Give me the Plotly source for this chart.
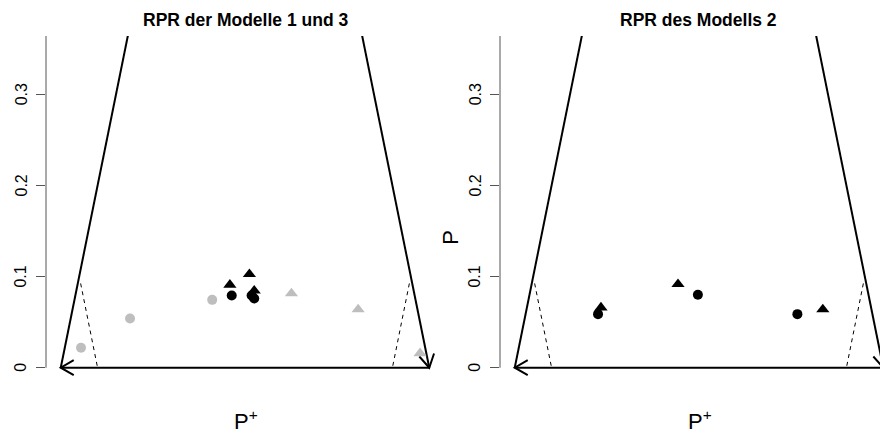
import numpy as np
import plotly.graph_objects as go

W, H = 880, 435
FONT = "Liberation Sans, Arial, Helvetica, sans-serif"
GREY = "#bebebe"

titles = ["RPR der Modelle 1 und 3", "RPR des Modells 2"]
x_label = "P<sup>+</sup>"
y_label = "P"

# Panel 1: Modelle 1 und 3
p1_grey_circle_x = [0.055, 0.188, 0.411]
p1_grey_circle_y = [0.022, 0.054, 0.0745]
p1_black_circle_x = [0.464, 0.518, 0.525]
p1_black_circle_y = [0.0793, 0.0793, 0.0760]
p1_black_tri_x = [0.459, 0.512, 0.525]
p1_black_tri_y = [0.0910, 0.1026, 0.0846]
p1_grey_tri_x = [0.626, 0.807, 0.975]
p1_grey_tri_y = [0.0815, 0.0640, 0.0158]

# Panel 2: Modell 2
p2_circle_x = [0.226, 0.497, 0.767]
p2_circle_y = [0.0588, 0.0800, 0.0588]
p2_tri_x = [0.234, 0.443, 0.836]
p2_tri_y = [0.0660, 0.0917, 0.0640]

# Region boundaries (P+ on x, P on y)
left_edge_x, left_edge_y = [0.0, 0.2], [0.0, 0.4]
right_edge_x, right_edge_y = [0.8, 1.0], [0.4, 0.0]
base_x, base_y = [1.0, 0.0], [0.0, 0.0]
left_dash_x, left_dash_y = [0.054, 0.100], [0.0925, 0.0]
right_dash_x, right_dash_y = [0.946, 0.900], [0.0925, 0.0]

y_ticks = [0, 0.1, 0.2, 0.3]
y_tick_text = ["0", "0.1", "0.2", "0.3"]

# plot-region geometry in pixels
panel_px = [(46, 444), (500, 880)]
top_px, bottom_px = 36, 380.5
y_range = [-0.014, 0.364]
x_lo = -0.04
px_per_x = (444 - 46) / 1.08
x_ranges = [[x_lo, x_lo + (r - l) / px_per_x] for l, r in panel_px]
px_per_y = (bottom_px - top_px) / (y_range[1] - y_range[0])

fig = go.Figure()


def barbs(tip_x, tip_y, from_x, from_y, length=15, angle=30):
    """Open arrowhead (two barbs) at tip, pointing away from 'from'."""
    dx = (tip_x - from_x) * px_per_x
    dy = (tip_y - from_y) * px_per_y
    n = np.hypot(dx, dy)
    bx, by = -dx / n, -dy / n
    xs, ys = [], []
    for sgn in (1, -1):
        a = np.radians(angle) * sgn
        rx = bx * np.cos(a) - by * np.sin(a)
        ry = bx * np.sin(a) + by * np.cos(a)
        xs.append(tip_x + rx * length / px_per_x)
        ys.append(tip_y + ry * length / px_per_y)
    return [xs[0], tip_x, xs[1]], [ys[0], tip_y, ys[1]]


def add_frame(xa, ya):
    line = dict(color="black", width=2)
    for xs, ys in [(left_edge_x, left_edge_y), (right_edge_x, right_edge_y), (base_x, base_y)]:
        fig.add_trace(go.Scatter(x=xs, y=ys, mode="lines", line=line, xaxis=xa, yaxis=ya,
                                 showlegend=False, hoverinfo="skip"))
    for xs, ys in [(left_dash_x, left_dash_y), (right_dash_x, right_dash_y)]:
        fig.add_trace(go.Scatter(x=xs, y=ys, mode="lines",
                                 line=dict(color="black", width=1, dash="4px,4px"),
                                 xaxis=xa, yaxis=ya, showlegend=False, hoverinfo="skip"))
    # arrowheads: down the right edge into (1,0), and along the base to (0,0)
    ax, ay = barbs(right_edge_x[1], right_edge_y[1], right_edge_x[0], right_edge_y[0])
    fig.add_trace(go.Scatter(x=ax, y=ay, mode="lines", line=line, xaxis=xa, yaxis=ya,
                             showlegend=False, hoverinfo="skip"))
    ax, ay = barbs(base_x[1], base_y[1], base_x[0], base_y[0])
    fig.add_trace(go.Scatter(x=ax, y=ay, mode="lines", line=line, xaxis=xa, yaxis=ya,
                             showlegend=False, hoverinfo="skip"))


def add_points(xs, ys, color, symbol, xa, ya):
    size = 10 if symbol == "circle" else 11.5
    fig.add_trace(go.Scatter(x=xs, y=ys, mode="markers",
                             marker=dict(color=color, symbol=symbol, size=size, line=dict(width=0)),
                             xaxis=xa, yaxis=ya, showlegend=False, cliponaxis=False))


add_frame("x", "y")
add_points(p1_grey_circle_x, p1_grey_circle_y, GREY, "circle", "x", "y")
add_points(p1_grey_tri_x, p1_grey_tri_y, GREY, "triangle-up", "x", "y")
add_points(p1_black_circle_x, p1_black_circle_y, "black", "circle", "x", "y")
add_points(p1_black_tri_x, p1_black_tri_y, "black", "triangle-up", "x", "y")

add_frame("x2", "y2")
add_points(p2_circle_x, p2_circle_y, "black", "circle", "x2", "y2")
add_points(p2_tri_x, p2_tri_y, "black", "triangle-up", "x2", "y2")

ydom = [1 - bottom_px / H, 1 - top_px / H]
yaxis_style = dict(range=y_range, domain=ydom, showgrid=False, zeroline=False, showline=False,
                   ticks="outside", ticklen=9, tickwidth=1, tickcolor="#555",
                   tickvals=y_ticks, showticklabels=False, fixedrange=True)
xaxis_style = dict(visible=False, showgrid=False, zeroline=False, fixedrange=True)

fig.update_layout(
    width=W, height=H,
    margin=dict(l=0, r=0, t=0, b=0),
    paper_bgcolor="white", plot_bgcolor="white",
    xaxis=dict(xaxis_style, domain=[panel_px[0][0] / W, panel_px[0][1] / W], range=x_ranges[0], anchor="y"),
    xaxis2=dict(xaxis_style, domain=[panel_px[1][0] / W, panel_px[1][1] / W], range=x_ranges[1], anchor="y2"),
    yaxis=dict(yaxis_style, anchor="x"),
    yaxis2=dict(yaxis_style, anchor="x2"),
)

# y-axis lines run from 0 to the top of the region, labels rotated beside the ticks
for (l, _), xr, yr in zip(panel_px, ["x domain", "x2 domain"], ["y", "y2"]):
    fig.add_shape(type="line", xref=xr, yref=yr, x0=0, x1=0, y0=0, y1=y_range[1],
                  line=dict(color="#555", width=1))
    for v, t in zip(y_ticks, y_tick_text):
        fig.add_annotation(text=t, x=(l - 25) / W, y=v, xref="paper", yref=yr,
                           xanchor="center", yanchor="middle", textangle=-90, showarrow=False,
                           font=dict(family=FONT, size=16, color="black"))

centers = [245.5, 698.7]
for c, t in zip(centers, titles):
    fig.add_annotation(text=f"<b>{t}</b>", x=c / W, y=1 - 20 / H, xref="paper", yref="paper",
                       xanchor="center", yanchor="middle", showarrow=False,
                       font=dict(family=FONT, size=17.5, color="black"))
    fig.add_annotation(text=x_label, x=(c + 1) / W, y=1 - 420 / H, xref="paper", yref="paper",
                       xanchor="center", yanchor="middle", showarrow=False,
                       font=dict(family=FONT, size=22, color="black"))

fig.add_annotation(text=y_label, x=451 / W, y=1 - 236.7 / H, xref="paper", yref="paper",
                   xanchor="center", yanchor="middle", textangle=-90, showarrow=False,
                   font=dict(family=FONT, size=22, color="black"))

fig.write_html("out.html")
